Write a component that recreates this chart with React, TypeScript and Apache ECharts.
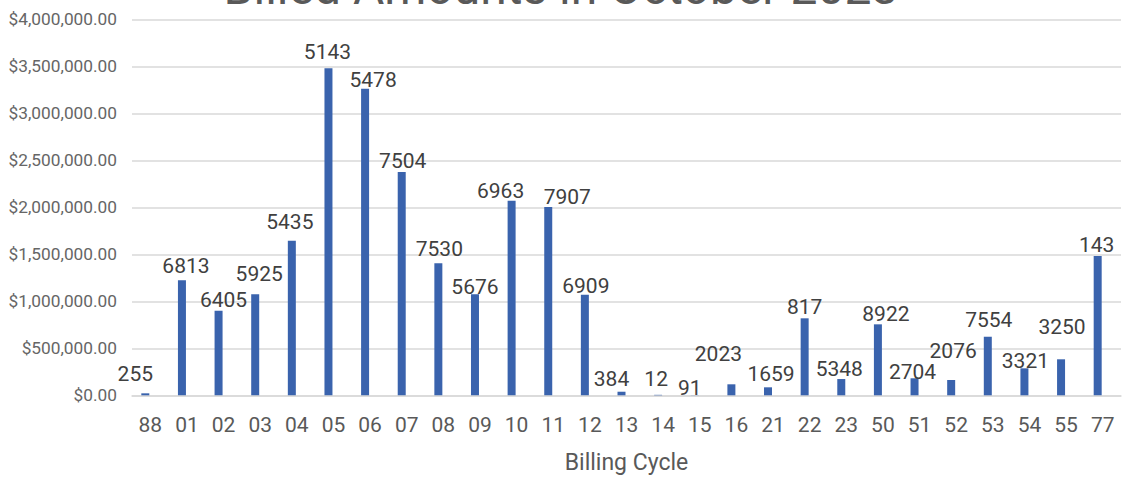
import React, { useEffect, useRef } from "react";
import * as echarts from "echarts";

const TITLE = "Billed Amounts in October 2023";
const X_NAME = "Billing Cycle";

const cycles = ["88","01","02","03","04","05","06","07","08","09","10","11","12","13","14","15","16","21","22","23","50","51","52","53","54","55","77"];
const billedAmounts = [21000,1223000,900000,1074000,1645000,3478000,3260000,2376000,1404000,1074000,2070000,2003000,1070000,38000,5000,1500,117000,85000,819000,173000,755000,181000,163000,623000,287000,383000,1482000];
const accountCounts = [255,6813,6405,5925,5435,5143,5478,7504,7530,5676,6963,7907,6909,384,12,91,2023,1659,817,5348,8922,2704,2076,7554,3321,3250,143];
const yTicks = { min: 0, max: 4000000, interval: 500000 };

// label style nudges: [dx, gap above bar]
const labelNudge: [number, number][] = [
  [-10, 13],[4, 8],[5, 4],[4, 14],[-2, 12],[-1, 10],[8, 2],[1, 4],[1, 8],[0, 1],[-11, 3],[19, 4],[1, 2],
  [-10, 6],[-2, 9],[-5, 1],[-13, 24],[3, 7],[0, 5],[-2, 4],[8, 4],[-2, 0],[2, 22],[1, 10],[1, 1],[1, 26],[-1, 4],
];

export default function App() {
  const ref = useRef<HTMLDivElement>(null);
  useEffect(() => {
    if (!ref.current) return;
    const chart = echarts.init(ref.current, null, { renderer: "svg" });
    const fmt = (v: number) =>
      "$" + v.toLocaleString("en-US", { minimumFractionDigits: 2, maximumFractionDigits: 2 });
    chart.setOption({
      animation: false,
      backgroundColor: "#ffffff",
      title: {
        text: TITLE,
        left: "center",
        top: -37,
        padding: 0,
        textStyle: { fontFamily: "Roboto", fontSize: 48, fontWeight: "normal", color: "#595959" },
      },
      grid: { left: 132, right: 1, top: 19.3, bottom: 85.7, containLabel: false },
      xAxis: {
        type: "category",
        data: cycles,
        name: X_NAME,
        nameLocation: "middle",
        nameGap: 56,
        nameTextStyle: { fontFamily: "Roboto", fontSize: 23, color: "#595959" },
        axisLine: { show: true, lineStyle: { color: "#d9d9d9", width: 1.5 } },
        axisTick: { show: false },
        axisLabel: { fontFamily: "Roboto", fontSize: 21, color: "#595959", margin: 19, interval: 0 },
      },
      yAxis: {
        type: "value",
        min: yTicks.min,
        max: yTicks.max,
        interval: yTicks.interval,
        axisLine: { show: false },
        axisTick: { show: false },
        splitLine: { lineStyle: { color: "#d9d9d9", width: 1.5 } },
        axisLabel: { fontFamily: "Roboto", fontSize: 17.3, color: "#666666", margin: 15, formatter: fmt },
      },
      series: [
        {
          type: "bar",
          barWidth: 8,
          barGap: "25%",
          itemStyle: { color: "#3a63ad" },
          data: billedAmounts.map((v, i) => ({
            value: v,
            label: {
              show: true,
              position: "top",
              distance: 0,
              offset: [labelNudge[i][0], 4 - labelNudge[i][1]],
              formatter: String(accountCounts[i]),
              fontFamily: "Roboto",
              fontSize: 21,
              color: "#404040",
            },
          })),
        },
        {
          type: "bar",
          barWidth: 8,
          silent: true,
          itemStyle: { color: "rgba(0,0,0,0)" },
          data: cycles.map(() => 0),
        },
      ],
    });
    return () => chart.dispose();
  }, []);
  return (
    <div
      ref={ref}
      style={{ position: "absolute", left: 0, top: 0, width: 1122, height: 481, background: "#fff" }}
    />
  );
}
